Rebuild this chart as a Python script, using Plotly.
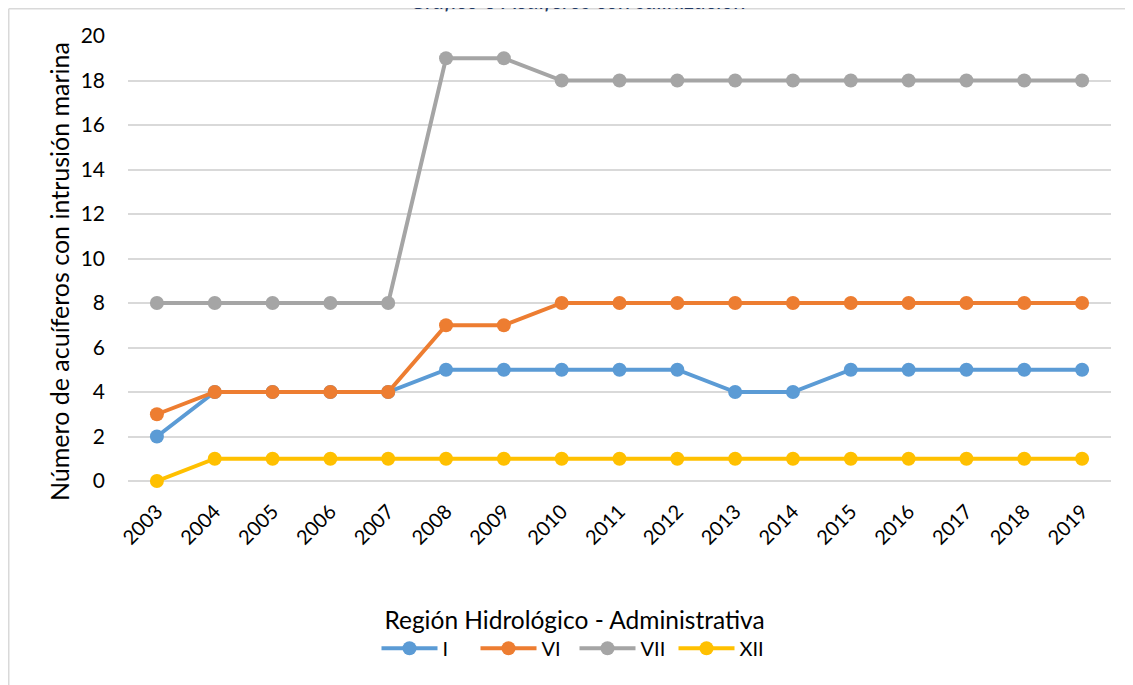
import plotly.graph_objects as go

# data
years = [str(y) for y in range(2003, 2020)]
region_i = [2, 4, 4, 4, 4, 5, 5, 5, 5, 5, 4, 4, 5, 5, 5, 5, 5]
region_vi = [3, 4, 4, 4, 4, 7, 7, 8, 8, 8, 8, 8, 8, 8, 8, 8, 8]
region_vii = [8, 8, 8, 8, 8, 19, 19, 18, 18, 18, 18, 18, 18, 18, 18, 18, 18]
region_xii = [0, 1, 1, 1, 1, 1, 1, 1, 1, 1, 1, 1, 1, 1, 1, 1, 1]

series = [
    ("I", region_i, "#5B9BD5"),
    ("VI", region_vi, "#ED7D31"),
    ("VII", region_vii, "#A5A5A5"),
    ("XII", region_xii, "#FFC000"),
]

FONT = "Lato"
W, H = 1133, 685
# the page body adds an 8px offset, so margins are shifted accordingly
M_L, M_R, M_T, M_B = 120, 30, 28, 212
pw = W - M_L - M_R
ph = H - M_T - M_B

fig = go.Figure()
for name, vals, color in series:
    fig.add_trace(go.Scatter(
        x=years, y=vals, name=name, mode="lines+markers",
        line=dict(color=color, width=4),
        marker=dict(color=color, size=14),
        cliponaxis=False,
    ))

fig.update_layout(
    width=W, height=H,
    margin=dict(l=M_L, r=M_R, t=M_T, b=M_B, autoexpand=False),
    paper_bgcolor="white", plot_bgcolor="white",
    font=dict(family=FONT, color="#000000"),
    showlegend=True,
    legend=dict(
        orientation="h", xref="container", x=0.5, xanchor="center",
        yref="container", y=0.1404, yanchor="top",
        title=dict(text="Región Hidrológico - Administrativa", side="top center",
                   font=dict(size=24.5)),
        font=dict(size=20), itemwidth=56,
        entrywidth=28, entrywidthmode="pixels",
    ),
)

fig.update_xaxes(
    type="category", range=[-0.5, 16.5], tickangle=-45,
    tickfont=dict(size=20), showgrid=False, showline=False, ticks="",
    ticklabelstandoff=14, automargin=False,
)
fig.update_yaxes(
    range=[0, 20], dtick=2, tickfont=dict(size=21),
    showgrid=True, gridcolor="#D9D9D9", gridwidth=1.5,
    zeroline=True, zerolinecolor="#D9D9D9", zerolinewidth=1.5,
    ticks="", showline=False, ticklabelstandoff=22, automargin=False,
)

# y axis title, placed a little below the middle of the plot like the source
fig.add_annotation(
    text="Número de acuíferos con intrusión marina", textangle=-90,
    xref="paper", yref="paper", x=(51 - M_L) / pw, y=1 - (264 - M_T) / ph,
    xanchor="center", yanchor="middle",
    showarrow=False, font=dict(size=25),
)

# cut-off chart caption and outer frame of the chart box
fig.add_annotation(
    text="<i>Gráfico 3 Acuíferos con salinización</i>", xref="paper", yref="paper",
    x=(570 - M_L) / pw, y=1, yanchor="bottom", yshift=M_T - 8, showarrow=False,
    font=dict(size=23, color="#1F3864"),
)
fx0 = (0.75 - M_L) / pw
fy0 = 1 + (M_T - 0.75) / ph
fig.add_shape(type="line", xref="paper", yref="paper", x0=fx0, x1=fx0, y0=fy0, y1=-2,
              line=dict(color="#D9D9D9", width=1.5))
fig.add_shape(type="line", xref="paper", yref="paper", x0=fx0, x1=2, y0=fy0, y1=fy0,
              line=dict(color="#D9D9D9", width=1.5))

fig.write_html("out.html")
